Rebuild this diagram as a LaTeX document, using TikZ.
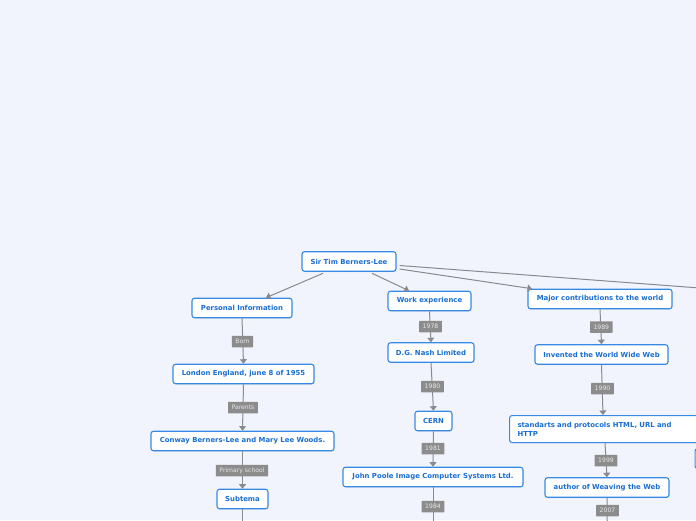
\documentclass[tikz,border=0pt]{standalone}
\usepackage{fontspec}
\setmainfont{DejaVu Sans}
\usetikzlibrary{arrows.meta,shadows,calc}
\definecolor{bg}{RGB}{241,244,253}
\definecolor{nodeblue}{RGB}{55,138,228}
\definecolor{textblue}{RGB}{25,110,210}
\definecolor{edgegray}{RGB}{138,138,142}
\definecolor{labelgray}{RGB}{140,140,140}
\definecolor{labeltext}{RGB}{232,232,232}
\begin{document}
\begin{tikzpicture}[x=1pt,y=-1pt,
 topic/.style={draw=nodeblue, line width=1.1pt, fill=white, rounded corners=2.5pt, minimum height=19.5pt, inner xsep=3pt, inner ysep=0pt, font=\fontsize{6.9}{9}\selectfont\bfseries, text=textblue, drop shadow={opacity=0.18, shadow xshift=0.6pt, shadow yshift=-0.8pt}},
 lbl/.style={fill=labelgray, text=labeltext, minimum height=11.5pt, inner xsep=3.5pt, inner ysep=0pt, font=\fontsize{6.1}{7}\selectfont, rounded corners=0.5pt},
 conn/.style={draw=edgegray, line width=1pt, -{Triangle[width=7pt,length=4.5pt]}},
]
\fill[bg] (0,0) rectangle (696,520);
\useasboundingbox (0,0) rectangle (696,520);

% main topics
\node[topic, minimum width=94pt] (root) at (349,261.5) {Sir Tim Berners-Lee};
\node[topic, minimum width=100pt] (pers) at (242,308) {Personal Information};
\node[topic, minimum width=83pt] (work) at (429.5,301) {Work experience};
\node[topic, minimum width=144pt] (major) at (600,299) {Major contributions to the world};
\coordinate (fourth) at (800,295.5);

% personal branch
\node[topic, minimum width=141pt] (london) at (243.5,374) {London England, june 8 of 1955};
\node[topic, minimum width=183pt] (conway) at (242.5,441) {Conway Berners-Lee and Mary Lee Woods.};
\node[topic, minimum width=51pt] (subtema) at (242.5,499) {Subtema};
\coordinate (subc) at (242.5,545);

% work branch
\node[topic, minimum width=86pt] (dgnash) at (431,352.5) {D.G. Nash Limited};
\node[topic, minimum width=37pt] (cern) at (433.5,421) {CERN};
\node[topic, minimum width=180pt] (poole) at (433,477) {John Poole Image Computer Systems Ltd.};
\coordinate (poolec) at (433,545);

% contributions branch
\node[topic, minimum width=133pt] (www) at (601.5,354.5) {Invented the World Wide Web};
\node[topic, anchor=north west, minimum height=27pt, inner xsep=8pt, text width=204pt, align=left] (std) at (509,415) {standarts and protocols HTML, URL and\\HTTP};
\node[topic, minimum width=124pt] (weave) at (607,487.5) {author of Weaving the Web};
\coordinate (weavec) at (607.5,545);

% partially visible node at the right edge
\node[topic, anchor=north west, minimum width=80pt, minimum height=20pt] (rnode) at (694.5,448) {};

% connectors
\draw[conn] ($(root.south)+(-26,1.5)$) -- ($(pers.north)+(24,0)$);
\draw[conn] ($(root.south)+(23,1.5)$) -- ($(work.north)+(-20.5,0)$);
\draw[conn] ($(root.east)+(3,7.5)$) -- ($(major.north)+(-68,0)$);
\draw[conn] ($(root.east)+(3,4)$) -- (fourth);

\draw[conn] (pers.south) -- (london.north);
\draw[conn] (london.south) -- (conway.north);
\draw[conn] (conway.south) -- (subtema.north);
\draw[conn] (subtema.south) -- (subc);

\draw[conn] (work.south) -- (dgnash.north);
\draw[conn] (dgnash.south) -- (cern.north);
\draw[conn] (cern.south) -- (poole.north);
\draw[conn] (poole.south) -- (poolec);

\draw[conn] (major.south) -- (www.north);
\draw[conn] (www.south) -- ($(std.north west)+(94,0)$);
\draw[conn] ($(std.south west)+(96,0)$) -- (weave.north);
\draw[conn] (weave.south) -- (weavec);

% connector labels
\node[lbl] (lborn) at (242.5,341.5) {Born};
\node[lbl] (lparents) at (243,407.5) {Parents};
\node[lbl] (lprimary) at (242,470.5) {Primary school};
\node[lbl] (l1978) at (430.5,326.5) {1978};
\node[lbl] (l1980) at (432.5,386.5) {1980};
\node[lbl] (l1981) at (433,448.5) {1981};
\node[lbl] (l1984) at (433,506.5) {1984};
\node[lbl] (l1989) at (601.3,327) {1989};
\node[lbl] (l1990) at (602.5,388.5) {1990};
\node[lbl] (l1999) at (606,460.5) {1999};
\node[lbl] (l2007) at (607.5,510.5) {2007};
\end{tikzpicture}
\end{document}
